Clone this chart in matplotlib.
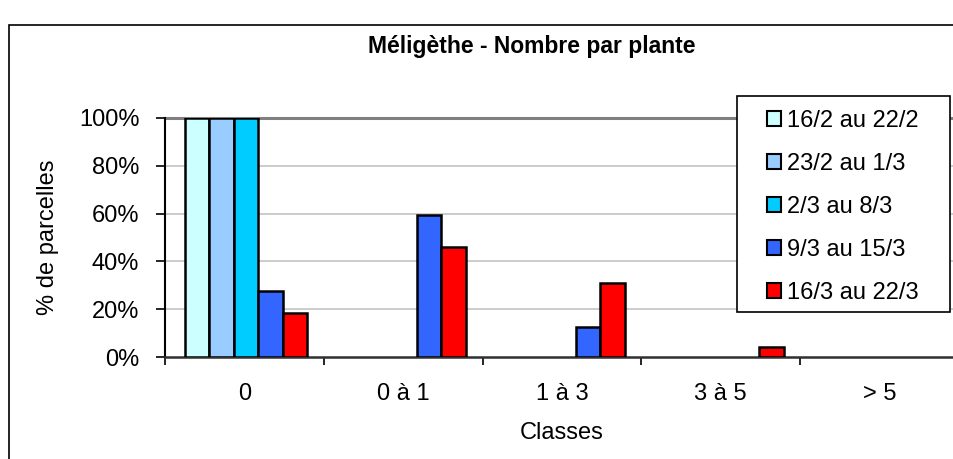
import matplotlib
matplotlib.use("Agg")
import matplotlib.pyplot as plt
from matplotlib.patches import Rectangle
import numpy as np

plt.rcParams['font.family'] = ['Liberation Sans', 'DejaVu Sans']

categories = ["0", "0 à 1", "1 à 3", "3 à 5", "> 5"]
series_labels = ["16/2 au 22/2", "23/2 au 1/3", "2/3 au 8/3", "9/3 au 15/3", "16/3 au 22/3"]
s1 = [100, 0, 0, 0, 0]
s2 = [100, 0, 0, 0, 0]
s3 = [100, 0, 0, 0, 0]
s4 = [27.7, 59.4, 12.6, 0, 0]
s5 = [18.6, 46.1, 31.0, 4.2, 0]
series = [s1, s2, s3, s4, s5]
colors = ["#CCFFFF", "#99CCFF", "#00CCFF", "#3366FF", "#FF0000"]
yticks = [0, 20, 40, 60, 80, 100]
yticklabels = ["0%", "20%", "40%", "60%", "80%", "100%"]

W, H = 954, 459
fig = plt.figure(figsize=(W / 100, H / 100), dpi=100)

# outer chart frame (cropped on right and bottom)
fig.patches.append(Rectangle((9 / W, -0.2), 1.2, (H - 25) / H + 0.2,
                             transform=fig.transFigure, fill=False,
                             edgecolor="black", linewidth=1.2))

left, right, bottom, top = 165 / W, 959 / W, 1 - 357 / H, 1 - 118 / H
ax = fig.add_axes([left, bottom, right - left, top - bottom])

x = np.arange(len(categories)) + 0.5
bw = 0.154
for j, (vals, c, lab) in enumerate(zip(series, colors, series_labels)):
    v = np.ma.masked_equal(np.array(vals, dtype=float), 0)
    ax.bar(x + (j - 2) * bw + 0.01, v, width=bw, color=c, edgecolor="black",
           linewidth=1.8, label=lab, zorder=3)

ax.set_xlim(0, 5)
ax.set_ylim(0, 100)
ax.set_yticks(yticks)
ax.set_yticklabels(yticklabels, fontsize=17)
for yv in yticks[1:-1]:
    ax.axhline(yv, color="#c8c8c8", linewidth=1.3, zorder=1)
ax.axhline(100, color="#808080", linewidth=2.2, zorder=1, clip_on=False)

ax.set_xticks(np.arange(0, 6))
ax.set_xticklabels([])
ax.set_xticks(x, minor=True)
ax.set_xticklabels(categories, minor=True, fontsize=17)
ax.tick_params(axis="x", which="minor", length=0, pad=19)
ax.tick_params(axis="x", which="major", length=6, width=1.2, direction="out")
ax.tick_params(axis="y", length=6.5, width=1.2, direction="out", pad=12)

for s in ["top", "right"]:
    ax.spines[s].set_visible(False)
ax.spines["left"].set_linewidth(1.5)
ax.spines["bottom"].set_linewidth(1.8)
ax.spines["bottom"].set_color("#303030")

ax.set_ylabel("% de parcelles", fontsize=17, labelpad=14)
ax.set_xlabel("Classes", fontsize=17, labelpad=12)

fig.text(532 / W, 1 - 46 / H, "Méligèthe - Nombre par plante", fontsize=16.5,
         fontweight="bold", ha="center", va="center")

leg = ax.legend(loc="upper left", bbox_to_anchor=(767 / W, 1 - 110 / H),
                bbox_transform=fig.transFigure, fontsize=17, frameon=False,
                handlelength=0.6, handleheight=0.6, handletextpad=0.25,
                labelspacing=0.89, borderpad=0, borderaxespad=0)
for h in leg.legend_handles:
    h.set_linewidth(1.5)
leg.set_zorder(10)
# legend frame
ax.add_patch(Rectangle((737 / W, 1 - 312 / H), (950 - 737) / W, (312 - 96) / H,
                       transform=fig.transFigure, facecolor="white",
                       edgecolor="black", linewidth=1.2, zorder=8, clip_on=False))

fig.savefig("out.png", dpi=100)
